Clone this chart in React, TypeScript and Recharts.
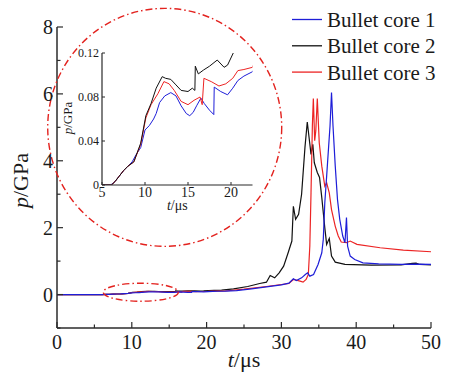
import React from 'react'
import { LineChart, Line, XAxis, YAxis, ReferenceDot, Legend } from 'recharts'

// time (µs) and pressure (GPa)
const core1T = [0, 6, 6.5, 7, 7.5, 8, 8.5, 9, 9.5, 10, 10.5, 11, 11.3, 11.7, 12.3, 13, 13.6, 14.2, 14.8, 15.2, 15.6, 16, 16.5, 16.9, 17.5, 18.0, 18.05, 18.8, 19.6, 20.2, 20.8, 21.5, 22.5, 24, 26, 28, 30, 31, 31.6, 32.0, 32.7, 33.2, 33.5, 33.8, 34.3, 34.9, 35.4, 35.6, 35.8, 36.05, 36.5, 36.7, 36.9, 37.2, 37.5, 37.8, 38.2, 38.5, 38.7, 38.85, 39.2, 39.8, 40.9, 43, 46, 48, 50]
const core1P = [0, 0, 0.003, 0.008, 0.013, 0.017, 0.021, 0.028, 0.034, 0.05, 0.054, 0.06, 0.065, 0.075, 0.081, 0.084, 0.081, 0.072, 0.065, 0.063, 0.066, 0.072, 0.079, 0.074, 0.068, 0.064, 0.089, 0.085, 0.082, 0.088, 0.095, 0.099, 0.103, 0.12, 0.17, 0.23, 0.29, 0.34, 0.47, 0.42, 0.5, 0.6, 0.65, 0.55, 0.6, 0.9, 1.25, 1.65, 2.74, 3.54, 5.04, 6.04, 5.04, 3.84, 2.84, 2.25, 1.75, 1.55, 2.3, 1.45, 1.15, 1.05, 0.95, 0.92, 0.9, 0.91, 0.9]

const core2T = [0, 6.1, 6.5, 7, 7.5, 8, 8.7, 9.5, 10.1, 10.7, 11.3, 12.0, 12.4, 13.0, 13.6, 14.2, 15.0, 15.5, 15.8, 15.85, 16.2, 16.8, 17.5, 18.4, 19.2, 19.6, 20.3, 21, 22, 23.6, 25.5, 27.1, 28.0, 28.5, 29.1, 29.7, 30.3, 30.9, 31.4, 31.6, 31.9, 32.3, 32.7, 33.15, 33.46, 33.8, 33.96, 34.2, 34.4, 34.8, 35.1, 35.4, 35.8, 36.05, 36.4, 36.7, 37.2, 38.5, 42, 46, 47.5, 48, 48.5, 50]
const core2P = [0, 0, 0.003, 0.008, 0.013, 0.017, 0.021, 0.038, 0.063, 0.074, 0.088, 0.0985, 0.097, 0.096, 0.091, 0.086, 0.085, 0.088, 0.086, 0.108, 0.101, 0.1045, 0.108, 0.1136, 0.107, 0.109, 0.1206, 0.125, 0.13, 0.17, 0.24, 0.33, 0.37, 0.57, 0.5, 0.65, 0.85, 1.25, 1.6, 2.64, 2.25, 2.4, 3.0, 4.4, 5.16, 4.5, 4.19, 4.49, 3.94, 3.65, 3.5, 2.9, 2.0, 1.5, 1.68, 1.15, 0.97, 0.9, 0.88, 0.89, 0.93, 0.94, 0.9, 0.89]

const core3T = [0, 6.1, 6.5, 7, 7.5, 8, 8.7, 9.5, 10.1, 10.7, 11.5, 12.2, 12.8, 13.4, 14.2, 15.0, 15.7, 16.4, 16.65, 16.85, 17.7, 18.6, 19.4, 20.2, 20.8, 21.5, 22.5, 25, 28, 30, 31, 31.6, 32.5, 32.9, 33.3, 33.6, 33.8, 33.96, 34.14, 34.27, 34.45, 34.6, 34.8, 35.06, 35.4, 35.8, 36.05, 36.4, 36.7, 37.2, 37.6, 38.0, 38.7, 39.2, 40.1, 43.2, 46.3, 50]
const core3P = [0, 0, 0.003, 0.008, 0.013, 0.017, 0.021, 0.037, 0.061, 0.073, 0.083, 0.094, 0.092, 0.086, 0.076, 0.073, 0.077, 0.08, 0.073, 0.097, 0.094, 0.09, 0.092, 0.097, 0.104, 0.105, 0.107, 0.16, 0.24, 0.3, 0.33, 0.45, 0.4, 0.37, 0.45, 0.6, 1.45, 3.04, 5.04, 5.86, 4.6, 4.9, 5.86, 4.54, 3.84, 3.24, 3.34, 3.04, 2.54, 2.04, 1.75, 1.57, 1.55, 1.6, 1.5, 1.4, 1.33, 1.28]

const seriesNames = ['Bullet core 1', 'Bullet core 2', 'Bullet core 3']
const seriesColors = ['#1e1ed8', '#111111', '#ec2424']

const mainXTicks = [0, 5, 10, 15, 20, 25, 30, 35, 40, 45, 50]
const mainYTicks = [-1, 0, 1, 2, 3, 4, 5, 6, 7, 8]
const insetXTicks = [5, 10, 15, 20]
const insetYTicks = [0, 0.04, 0.08, 0.12]

const zip = (t: number[], p: number[]) => t.map((v, i) => ({ t: v, p: p[i] }))
const series = [zip(core1T, core1P), zip(core2T, core2P), zip(core3T, core3P)]

const FONT = 'Liberation Serif, Times New Roman, DejaVu Serif, serif'
const AXIS = '#2b2b2b'
const RED = '#e3221e'
const txt = (size: number) => ({ fontFamily: FONT, fontSize: size })

function MainXTick(props: any) {
  const { x, y, payload } = props
  const major = payload.value % 10 === 0
  return (
    <g>
      <line x1={x} x2={x} y1={y} y2={y - (major ? 6 : 3.5)} stroke={AXIS} strokeWidth={1.2} />
      {major && (
        <text x={x} y={y + 21} textAnchor="middle" style={txt(20)} fill="#1a1a1a">
          {payload.value}
        </text>
      )}
    </g>
  )
}

function MainYTick(props: any) {
  const { x, y, payload } = props
  const major = payload.value % 2 === 0
  return (
    <g>
      <line x1={x} x2={x + (major ? 6 : 3.5)} y1={y} y2={y} stroke={AXIS} strokeWidth={1.2} />
      {major && payload.value >= 0 && (
        <text x={x - 4} y={y + 7} textAnchor="end" style={txt(20)} fill="#1a1a1a">
          {payload.value}
        </text>
      )}
    </g>
  )
}

function InsetXTick(props: any) {
  const { x, y, payload } = props
  return (
    <g>
      <line x1={x} x2={x} y1={y} y2={y - 3} stroke={AXIS} strokeWidth={1} />
      <text x={x} y={y + 12} textAnchor="middle" style={txt(14)} fill="#1a1a1a">
        {payload.value}
      </text>
    </g>
  )
}

function InsetYTick(props: any) {
  const { x, y, payload } = props
  const label = payload.value === 0 ? '0' : payload.value.toFixed(2)
  return (
    <g>
      <line x1={x} x2={x + 3} y1={y} y2={y} stroke={AXIS} strokeWidth={1} />
      <text x={x - 3} y={y + 4} textAnchor="end" style={txt(12)} fill="#1a1a1a">
        {label}
      </text>
    </g>
  )
}

const xTitle = (size: number, dy: number) => (props: any) => {
  const vb = props.viewBox || { x: 0, y: 0, width: 0, height: 0 }
  return (
    <text x={vb.x + vb.width / 2} y={vb.y + dy} textAnchor="middle" style={txt(size)} fill="#1a1a1a">
      <tspan fontStyle="italic">t</tspan>/μs
    </text>
  )
}

const yTitle = (size: number, bx: number, shift: number) => (props: any) => {
  const vb = props.viewBox || { x: 0, y: 0, width: 0, height: 0 }
  const cy = vb.y + vb.height / 2 + shift
  return (
    <text x={bx} y={cy} transform={`rotate(-90 ${bx} ${cy})`} textAnchor="middle" style={txt(size)} fill="#1a1a1a">
      <tspan fontStyle="italic">p</tspan>/GPa
    </text>
  )
}

function LegendBox() {
  return (
    <svg width={173} height={90}>
      {seriesNames.map((name, i) => {
        const y = 19.5 + i * 26.3
        return (
          <g key={name}>
            <line x1={12} x2={42} y1={y} y2={y} stroke={seriesColors[i]} strokeWidth={1.3} />
            <text x={47} y={y + 7.5} style={txt(21)} fill="#1a1a1a">
              {name}
            </text>
          </g>
        )
      })}
    </svg>
  )
}

const ellipse = (rx: number, ry: number) => (p: any) => (
  <ellipse cx={p.cx} cy={p.cy} rx={rx} ry={ry} fill="none" stroke={RED} strokeWidth={1.4} strokeDasharray="7 3 1.5 3" />
)

export default function App() {
  return (
    <div style={{ position: 'absolute', left: 0, top: 0, width: 453, height: 372, background: '#fff', fontFamily: FONT }}>
      <LineChart width={453} height={372} margin={{ top: 27, right: 22, bottom: 14, left: 7 }}>
        <XAxis
          type="number"
          dataKey="t"
          domain={[0, 50]}
          ticks={mainXTicks}
          interval={0}
          tickSize={0}
          tickMargin={0}
          height={30}
          tick={<MainXTick />}
          axisLine={{ stroke: AXIS, strokeWidth: 1.5 }}
          label={{ content: xTitle(22, 39) }}
        />
        <YAxis
          type="number"
          domain={[-1, 8]}
          ticks={mainYTicks}
          interval={0}
          tickSize={0}
          tickMargin={0}
          width={50}
          tick={<MainYTick />}
          axisLine={{ stroke: AXIS, strokeWidth: 1.5 }}
          label={{ content: yTitle(22, 28, 3) }}
        />
        <ReferenceDot x={14.4} y={5.0} r={0} shape={ellipse(117, 119)} />
        <ReferenceDot x={11.2} y={0.07} r={0} shape={ellipse(37.5, 9)} />
        {[1, 2, 0].map((i) => (
          <Line
            key={seriesNames[i]}
            data={series[i]}
            dataKey="p"
            name={seriesNames[i]}
            type="linear"
            stroke={seriesColors[i]}
            strokeWidth={1.2}
            dot={false}
            isAnimationActive={false}
          />
        ))}
        <Legend
          layout="vertical"
          align="center"
          verticalAlign="middle"
          wrapperStyle={{ left: 280, top: 0, width: 173, height: 90 }}
          content={() => <LegendBox />}
        />
      </LineChart>
      <div style={{ position: 'absolute', left: 0, top: 0 }}>
        <LineChart width={260} height={230} margin={{ top: 53, right: 7.5, bottom: 20, left: 62 }}>
          <XAxis
            type="number"
            dataKey="t"
            domain={[5, 22.5]}
            allowDataOverflow
            ticks={insetXTicks}
            interval={0}
            tickSize={0}
            tickMargin={0}
            height={25}
            tick={<InsetXTick />}
            axisLine={{ stroke: AXIS, strokeWidth: 1.2 }}
            label={{ content: xTitle(14, 25) }}
          />
          <YAxis
            type="number"
            domain={[0, 0.12]}
            allowDataOverflow
            ticks={insetYTicks}
            interval={0}
            tickSize={0}
            tickMargin={0}
            width={40}
            tick={<InsetYTick />}
            axisLine={{ stroke: AXIS, strokeWidth: 1.2 }}
            label={{ content: yTitle(13, 72, -1) }}
          />
          {[0, 2, 1].map((i) => (
            <Line
              key={seriesNames[i]}
              data={series[i]}
              dataKey="p"
              type="linear"
              stroke={seriesColors[i]}
              strokeWidth={1}
              dot={false}
              isAnimationActive={false}
            />
          ))}
        </LineChart>
      </div>
    </div>
  )
}
